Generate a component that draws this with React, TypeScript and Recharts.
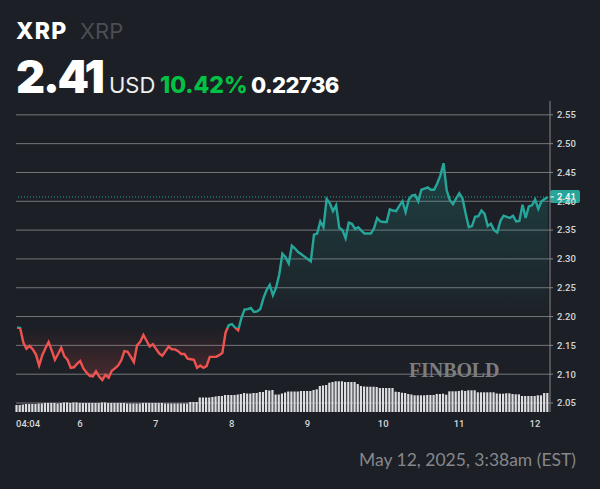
import React from 'react';
import { ComposedChart, Area, Bar, XAxis, YAxis, CartesianGrid, ReferenceLine } from 'recharts';

const prices = [
  2.181, 2.18, 2.155, 2.144, 2.149, 2.143, 2.134, 2.115, 2.133, 2.145,
  2.156, 2.141, 2.125, 2.135, 2.146, 2.131, 2.125, 2.111, 2.112, 2.118,
  2.123, 2.11, 2.103, 2.097, 2.096, 2.105, 2.096, 2.09, 2.099, 2.094,
  2.106, 2.11, 2.115, 2.124, 2.14, 2.139, 2.13, 2.121, 2.15, 2.156,
  2.168, 2.158, 2.148, 2.152, 2.144, 2.136, 2.132, 2.14, 2.148, 2.143,
  2.143, 2.14, 2.135, 2.135, 2.127, 2.126, 2.125, 2.111, 2.115, 2.111,
  2.114, 2.13, 2.13, 2.13, 2.133, 2.137, 2.172, 2.185, 2.187, 2.181,
  2.176, 2.197, 2.212, 2.213, 2.215, 2.208, 2.209, 2.213, 2.232, 2.246,
  2.255, 2.237, 2.25, 2.273, 2.309, 2.303, 2.292, 2.323, 2.318, 2.312,
  2.308, 2.304, 2.3, 2.296, 2.342, 2.344, 2.365, 2.355, 2.404, 2.397,
  2.383, 2.393, 2.354, 2.35, 2.336, 2.363, 2.361, 2.352, 2.355, 2.349,
  2.344, 2.344, 2.344, 2.353, 2.371, 2.365, 2.364, 2.364, 2.386, 2.384,
  2.383, 2.392, 2.4, 2.381, 2.403, 2.41, 2.411, 2.4, 2.42, 2.422,
  2.424, 2.42, 2.42, 2.431, 2.445, 2.466, 2.419, 2.402, 2.395, 2.405,
  2.414, 2.405, 2.379, 2.355, 2.357, 2.373, 2.374, 2.384, 2.378, 2.357,
  2.361, 2.35, 2.346, 2.366, 2.375, 2.373, 2.371, 2.375, 2.365, 2.366,
  2.394, 2.371, 2.391, 2.393, 2.403, 2.387, 2.4, 2.404, 2.4075,
];

const volumes = [
  7, 7, 7.5, 8, 8, 8, 8, 8.5, 8.5, 9,
  9, 9, 9, 8.5, 9, 9.5, 9.5, 9, 9.5, 9.5,
  9, 9, 9, 9, 9, 9, 9, 9.5, 9.5, 9,
  9, 9, 9, 9, 9, 8.5, 8.5, 8.5, 8.5, 8.5,
  9, 9, 9, 9, 9, 9, 9, 8.5, 8.5, 8.5,
  8.5, 8.5, 8.5, 8.5, 8.5, 10, 10, 10, 14.5, 14.5,
  14.5, 14.5, 15, 15.5, 16, 16, 17, 17, 17, 17,
  17.5, 18, 19, 18.5, 18.5, 19, 19, 20, 20, 22,
  21.5, 22, 17.5, 17.5, 18.5, 19.5, 20.5, 20.5, 20.5, 20.5,
  21, 21, 21, 21, 22, 22.7, 26, 26.5, 27, 29.3,
  30, 30.7, 30.7, 30.7, 30, 30, 30, 30, 28, 26,
  25.5, 25.3, 25.3, 25.3, 25, 24, 24, 24, 24, 24,
  20.3, 20, 19.3, 19, 18, 17.5, 16.7, 16.7, 16.7, 16.7,
  17, 17, 17, 18, 18, 18.3, 17.3, 20.7, 20.7, 20.7,
  21, 21.7, 21, 21.7, 21.7, 21.7, 19.7, 19.7, 19.7, 19.7,
  19.7, 19.7, 18.5, 18.3, 18.3, 18.7, 18.7, 18, 17.7, 17.7,
  16, 16, 16, 16, 16, 16.7, 16.7, 19, 19,
];

const priceTicks = [2.05, 2.1, 2.15, 2.2, 2.25, 2.3, 2.35, 2.4, 2.45, 2.5, 2.55];
const timeTicks = [0, 19.93, 43.93, 67.93, 91.93, 115.93, 139.93, 163.93];
const timeLabels = ['04:04', '6', '7', '8', '9', '10', '11', '12'];

const openPrice = 2.18;
const lastPrice = 2.4075;

const table = prices.map((price, i) => ({ hour: i, price, volume: volumes[i] }));

const top = Math.max(...prices);
const bottom = Math.min(...prices);
const split = (top - openPrice) / (top - bottom);

const TEAL = '#26a69a';
const RED = '#ef5350';
const FONT = 'Roboto, sans-serif';
const HEAD = 'Inter, sans-serif';

const TimeTick = (props: any) => {
  const { x, y, payload, index } = props;
  const first = index === 0;
  return (
    <text x={first ? 16 : x} y={y + 7} textAnchor={first ? 'start' : 'middle'} fill="#d5d6d8" fontSize={9.5} fontWeight={500} fontFamily={FONT}>
      {timeLabels[timeTicks.indexOf(payload.value)]}
    </text>
  );
};

const PriceBadge = (props: any) => {
  const y = props.viewBox.y;
  return (
    <g>
      <rect x={550} y={y - 7} width={30} height={13} rx={2} fill={TEAL} />
      <line x1={550} x2={554} y1={y} y2={y} stroke="#fff" />
      <text x={557} y={y + 3.2} fill="#fff" fontSize={9.5} fontWeight={500} fontFamily={FONT}>2.41</text>
    </g>
  );
};

const Label: React.FC<{ x: number; y: number; size: number; weight: number; color: string; text: string; font?: string; spacing?: number }> = ({ x, y, size, weight, color, text, font, spacing }) => (
  <div style={{ position: 'absolute', left: x, top: y, fontSize: size, fontWeight: weight, color, fontFamily: font || HEAD, letterSpacing: spacing, lineHeight: 1, whiteSpace: 'nowrap' }}>
    {text}
  </div>
);

export default function App() {
  return (
    <div style={{ position: 'absolute', left: 0, top: 0, width: 600, height: 489, background: '#1c1f25', overflow: 'hidden' }}>
      <Label x={16} y={20} size={23} weight={800} color="#ffffff" text="XRP" spacing={1.2} />
      <Label x={80} y={20} size={22} weight={400} color="#4c4d52" text="XRP" />
      <Label x={16} y={54} size={45} weight={900} color="#ffffff" text="2.41" spacing={-2.2} />
      <Label x={109} y={74} size={22} weight={400} color="#eeeeee" text="USD" />
      <Label x={160} y={74} size={23} weight={800} color="#00c244" text="10.42%" />
      <Label x={251} y={74} size={22} weight={800} color="#ffffff" text="0.22736" spacing={-0.6} />

      <ComposedChart width={600} height={489} data={table} margin={{ top: 101, right: 0, bottom: 57, left: 16 }}>
        <defs>
          <linearGradient id="lineSplit" x1="0" y1="0" x2="0" y2="1">
            <stop offset={split} stopColor={TEAL} />
            <stop offset={split} stopColor={RED} />
          </linearGradient>
          <linearGradient id="fillSplit" x1="0" y1="0" x2="0" y2="1">
            <stop offset={0} stopColor={TEAL} stopOpacity={0.25} />
            <stop offset={split} stopColor={TEAL} stopOpacity={0} />
            <stop offset={split} stopColor={RED} stopOpacity={0} />
            <stop offset={1} stopColor={RED} stopOpacity={0.22} />
          </linearGradient>
        </defs>
        <CartesianGrid yAxisId="price" vertical={false} stroke="#75777b" strokeWidth={1} syncWithTicks />
        <XAxis
          dataKey="hour"
          type="number"
          domain={[-0.32, 168.7]}
          ticks={timeTicks}
          interval={0}
          axisLine={false}
          tickLine={false}
          height={20}
          tick={<TimeTick />}
        />
        <YAxis
          yAxisId="price"
          orientation="right"
          domain={[2.0344, 2.574]}
          ticks={priceTicks}
          interval={0}
          width={50}
          stroke="#85878b"
          tickSize={3}
          tickMargin={4}
          tickFormatter={(v: number) => v.toFixed(2)}
          tick={{ fill: '#d5d6d8', fontSize: 9.5, fontWeight: 500, fontFamily: FONT }}
        />
        <YAxis yAxisId="volume" hide domain={[0, 311]} />
        <Bar yAxisId="volume" dataKey="volume" barSize={2.2} fill="#dcdde0" isAnimationActive={false} />
        <Area
          yAxisId="price"
          type="linear"
          dataKey="price"
          baseValue={openPrice}
          stroke="url(#lineSplit)"
          strokeWidth={2.4}
          fill="url(#fillSplit)"
          fillOpacity={1}
          dot={false}
          activeDot={false}
          isAnimationActive={false}
        />
        <ReferenceLine yAxisId="price" y={lastPrice} stroke={TEAL} strokeWidth={1} strokeDasharray="1 2" label={<PriceBadge />} />
      </ComposedChart>

      <Label x={409} y={360} size={20} weight={700} color="#7b7e81" text="FINBOLD" font="'Liberation Serif', serif" spacing={-0.1} />
      <Label x={359} y={451} size={17.5} weight={400} color="#86878b" text="May 12, 2025, 3:38am (EST)" font="Lato, sans-serif" />
    </div>
  );
}
